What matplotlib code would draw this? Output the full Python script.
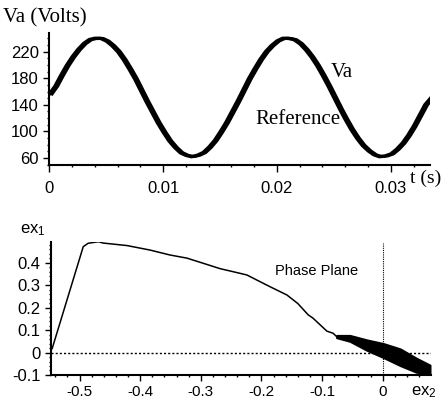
import numpy as np
import matplotlib.pyplot as plt
from matplotlib.ticker import MultipleLocator

plt.rcParams.update({'font.family': 'Liberation Sans',
                     'axes.unicode_minus': False,
                     'mathtext.fontset': 'custom',
                     'mathtext.rm': 'Liberation Sans',
                     'mathtext.default': 'regular'})

# top plot: phase voltage and reference (read every 0.5 ms)
t = np.arange(68) * 0.0005
v_ref = [156, 168, 184, 199, 212, 223, 232, 238, 240, 240, 236, 229, 220, 208,
         194, 179, 162, 145, 129, 113, 99, 86, 76, 68, 64, 62, 64, 68, 76, 86,
         99, 113, 129, 145, 162, 179, 194, 208, 220, 229, 236, 240, 240, 238,
         232, 223, 212, 199, 184, 168, 151, 134, 118, 103, 90, 79, 71, 65, 62,
         63, 66, 73, 82, 94, 108, 124, 140, 150]
va_lag = 0.00025

# bottom plot: phase plane trajectory (ex2, ex1)
ex2 = [-0.549, -0.545, -0.494, -0.486, -0.469, -0.461, -0.422, -0.384, -0.351,
       -0.323, -0.296, -0.268, -0.241, -0.224, -0.208, -0.186, -0.158, -0.140,
       -0.123, -0.115, -0.092, -0.082, -0.076, -0.054]
ex1 = [0.0, 0.02, 0.471, 0.486, 0.493, 0.487, 0.476, 0.456, 0.434,
       0.420, 0.397, 0.373, 0.356, 0.345, 0.323, 0.293, 0.256, 0.218,
       0.168, 0.153, 0.095, 0.086, 0.071, 0.064]
# chattering band near the origin
band_x = [-0.076, -0.054, -0.026, 0.001, 0.029, 0.056, 0.078]
band_hi = [0.076, 0.076, 0.056, 0.040, 0.016, -0.026, -0.056]
band_lo = [0.066, 0.050, 0.010, -0.022, -0.058, -0.088, -0.097]

fig = plt.figure(figsize=(4.47, 4.03), dpi=100)

ax1 = fig.add_axes([0.1103, 0.5898, 0.8517, 0.3283])
ax1.plot(t, v_ref, color='black', lw=2.5)
ax1.plot(t + va_lag, v_ref, color='black', lw=2.0)
ax1.set_xlim(0, 0.03345)
ax1.set_ylim(49, 248)
ax1.set_xticks([0, 0.01, 0.02, 0.03])
ax1.set_xticklabels(['0', '0.01', '0.02', '0.03'])
ax1.set_yticks([60, 100, 140, 180, 220])
ax1.xaxis.set_minor_locator(MultipleLocator(0.002))
ax1.yaxis.set_minor_locator(MultipleLocator(10))
ax1.tick_params(which='major', direction='out', length=4, width=1, labelsize=12)
ax1.tick_params(axis='x', which='major', length=5, pad=6)
ax1.tick_params(which='minor', direction='out', length=1.5, width=1)
ax1.text(0.0247, 189, 'Va', family='Liberation Serif', fontsize=15, va='center')
ax1.text(0.0181, 118, 'Reference', family='Liberation Serif', fontsize=15,
         va='center')

ax2 = fig.add_axes([0.113, 0.0695, 0.8505, 0.3307])
ax2.plot(ex2, ex1, color='black', lw=1.1)
ax2.fill_between(band_x, band_lo, band_hi, color='black', lw=1.5)
ax2.axhline(0, color='black', lw=1, ls=(0, (1.5, 1.5)))
ax2.axvline(0, ymax=0.99, color='black', lw=0.8, ls=(0, (1, 1)))
ax2.set_xlim(-0.548, 0.0792)
ax2.set_ylim(-0.1, 0.493)
ax2.set_xticks([-0.5, -0.4, -0.3, -0.2, -0.1, 0])
ax2.set_xticklabels(['-0.5', '-0.4', '-0.3', '-0.2', '-0.1', '0'])
ax2.set_yticks([-0.1, 0, 0.1, 0.2, 0.3, 0.4])
ax2.set_yticklabels(['-0.1', '0', '0.1', '0.2', '0.3', '0.4'])
ax2.xaxis.set_minor_locator(MultipleLocator(0.02))
ax2.yaxis.set_minor_locator(MultipleLocator(0.02))
ax2.tick_params(which='major', direction='out', length=4, width=1,
                labelsize=11, pad=3)
ax2.tick_params(axis='y', which='major', labelsize=12)
ax2.tick_params(which='minor', direction='out', length=1.5, width=1)
ax2.text(-0.177, 0.363, 'Phase Plane', fontsize=10.5, va='center')

for ax in (ax1, ax2):
    for s in ('top', 'right'):
        ax.spines[s].set_visible(False)
    for s in ('left', 'bottom'):
        ax.spines[s].set_linewidth(1.5)

fig.text(3 / 447, 1 - 18 / 403, 'Va (Volts)', family='Liberation Serif',
         fontsize=15, va='center')
fig.text(410 / 447, 1 - 178 / 403, 't (s)', family='Liberation Serif',
         fontsize=14, va='center')
fig.text(20 / 447, 1 - 230 / 403, 'ex$_1$', fontsize=12, va='center')
fig.text(411 / 447, 1 - 392 / 403, 'ex$_2$', fontsize=12, va='center')

fig.savefig('out.png', dpi=100)
